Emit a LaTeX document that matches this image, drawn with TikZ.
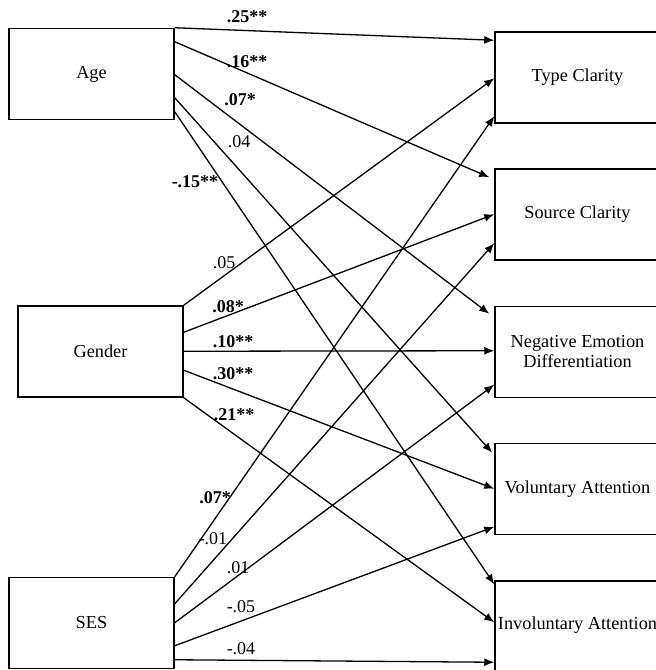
\documentclass[tikz,border=0pt]{standalone}
\usepackage{fontspec}
\setmainfont{Liberation Serif}
\usetikzlibrary{arrows.meta}
\begin{document}
\begin{tikzpicture}[x=1pt,y=-1pt,
  box/.style={draw, line width=1.5pt, minimum width=165pt, minimum height=91pt, inner sep=0pt, align=center, font=\fontsize{18.3}{20}\selectfont},
  pathln/.style={line width=1.3pt, -{Latex[length=10pt,width=8pt]}},
  coef/.style={inner sep=0pt, font=\fontsize{18}{20}\selectfont},
  sig/.style={inner sep=0pt, font=\fontsize{18}{20}\selectfont\bfseries}]
\useasboundingbox (0,0) rectangle (656,670);
\clip (0,0) rectangle (656,670);
% predictors
\node[box] (age) at (91.5,74) {Age};
\node[box] (gen) at (100.5,351.5) {Gender};
\node[box] (ses) at (91.5,623) {SES};
% outcomes
\node[box] (tc) at (577.5,77.5) {Type Clarity};
\node[box] (sc) at (577.5,214.5) {Source Clarity};
\node[box] (ne) at (577.5,352) {Negative Emotion\\Differentiation};
\node[box] (va) at (577.5,489) {Voluntary Attention};
\node[box, minimum height=97pt, text depth=13pt] (ia) at (577.5,629.5) {Involuntary Attention};
% Age paths
\draw[pathln] (age.north east) -- ([yshift=-9pt]tc.north west);
\draw[pathln] ([yshift=-14pt]age.north east) -- ([xshift=-5pt,yshift=-9pt]sc.north west);
\draw[pathln] ([yshift=-47pt]age.north east) -- ([xshift=-5pt,yshift=-8pt]ne.north west);
\draw[pathln] ([yshift=-70pt]age.north east) -- ([xshift=-2pt,yshift=-10pt]va.north west);
\draw[pathln] ([yshift=-84pt]age.north east) -- ([yshift=-4pt]ia.north west);
% Gender paths
\draw[pathln] (gen.north east) -- ([yshift=-47pt]tc.north west);
\draw[pathln] ([yshift=-27pt]gen.north east) -- ([yshift=-46pt]sc.north west);
\draw[pathln] ([yshift=-46pt]gen.north east) -- ([yshift=-45pt]ne.north west);
\draw[pathln] ([yshift=-65pt]gen.north east) -- ([yshift=-46pt]va.north west);
\draw[pathln] (gen.south east) -- ([yshift=-42pt]ia.north west);
% SES paths
\draw[pathln] (ses.north east) -- ([yshift=-85pt]tc.north west);
\draw[pathln] ([yshift=-27pt]ses.north east) -- ([yshift=-75pt]sc.north west);
\draw[pathln] ([yshift=-46pt]ses.north east) -- ([yshift=-79pt]ne.north west);
\draw[pathln] ([yshift=-69pt]ses.north east) -- ([yshift=-84pt]va.north west);
\draw[pathln] ([yshift=-83pt]ses.north east) -- ([yshift=-82pt]ia.north west);
% coefficients
\node[sig]  (l1)  at (247,17)  {.25**};
\node[sig]  (l2)  at (247,62)  {.16**};
\node[sig]  (l3)  at (240,100) {.07*};
\node[coef] (l4)  at (239,142) {.04};
\node[sig]  (l5)  at (195,182) {-.15**};
\node[coef] (l6)  at (224,263) {.05};
\node[sig]  (l7)  at (228,307) {.08*};
\node[sig]  (l8)  at (233,342) {.10**};
\node[sig]  (l9)  at (233,374) {.30**};
\node[sig]  (l10) at (234,415) {.21**};
\node[sig]  (l11) at (215,498) {.07*};
\node[coef] (l12) at (213,539) {-.01};
\node[coef] (l13) at (238,568) {.01};
\node[coef] (l14) at (241,607) {-.05};
\node[coef] (l15) at (241,649) {-.04};
\end{tikzpicture}
\end{document}
